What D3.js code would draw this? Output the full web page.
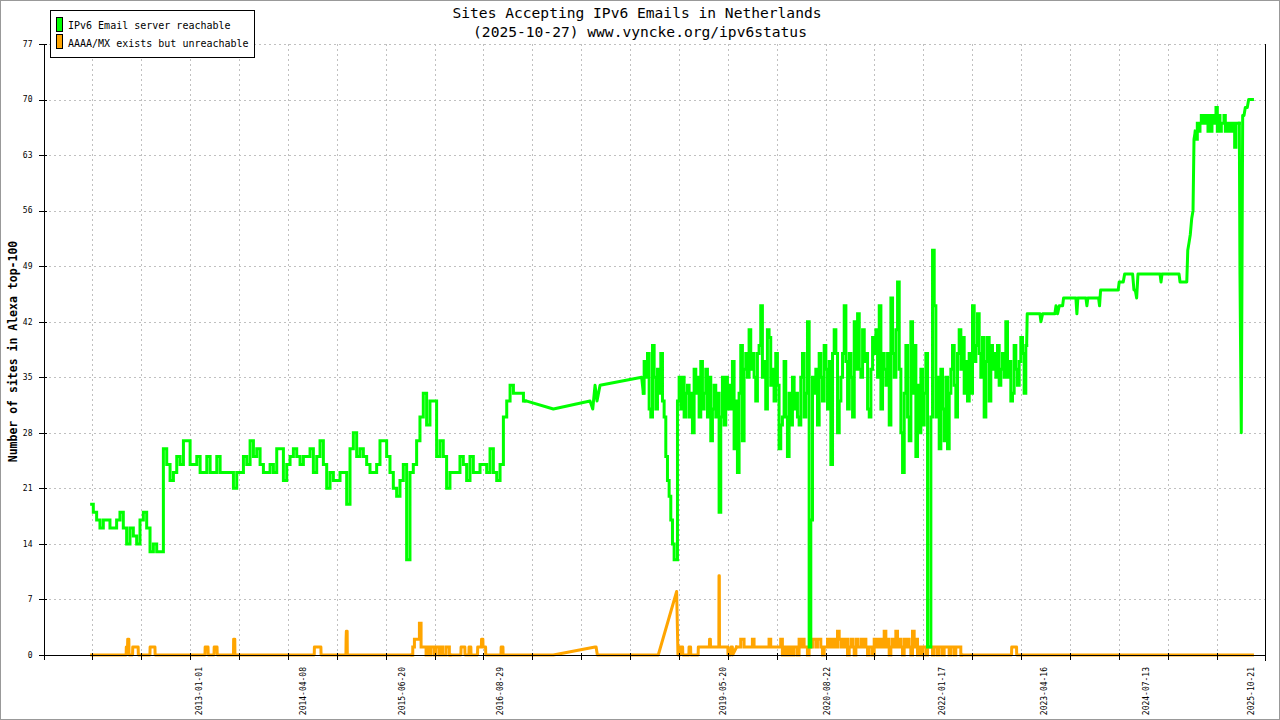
<!DOCTYPE html>
<html><head><meta charset="utf-8">
<script src="https://cdn.jsdelivr.net/npm/d3@7"></script>
<style>body{margin:0;background:#fff;overflow:hidden}text{font-family:"DejaVu Sans Mono",monospace;fill:#000}</style>
</head><body><svg id="c" width="1280" height="720"></svg>
<script>
// ---------- text ----------
const chartTitle = ["Sites Accepting IPv6 Emails in Netherlands", "(2025-10-27) www.vyncke.org/ipv6status"];
const yAxisTitle = "Number of sites in Alexa top-100";
const seriesNames = ["IPv6 Email server reachable", "AAAA/MX exists but unreachable"];
const seriesColors = ["#00ff00", "#ffa500"];
const yTickValues = [0, 7, 14, 21, 28, 35, 42, 49, 56, 63, 70, 77];
const xLabelDates = ["2013-01-01","2014-04-08","2015-06-20","2016-08-29","2019-05-20","2020-08-22","2022-01-17","2023-04-16","2024-07-13","2025-10-21"];
const xAxisYears = [2011.1035, 2025.979];   // axis extent in decimal years
const xTickIntervals = 25;

// ---------- green: "IPv6 Email server reachable" (decimal year, value) ----------
const greenRun1Span = [2011.690, 2016.965];
const greenRun1 = [19,18,17,16,17,17,16,16,17,18,16,14,16,15,14,17,18,16,13,14,13,13,26,24,22,23,25,24,27,27,
24,24,25,23,23,25,23,23,25,23,23,23,23,21,23,23,25,24,27,25,26,24,23,23,24,23,26,26,22,24,
25,26,25,24,25,25,26,23,25,27,24,21,23,22,22,23,23,19,26,28,25,26,25,24,23,23,24,27,27,25,
23,21,20,22,24,12,23,24,27,30,33,29,32,32,25,27,25,
21,23,23,23,25,24,22,25,23,23,24,24,23,26,23,22,24,30,32,34,33,33,33,32];
const greenPoints2 = [[2016.986,32],[2017.309,31],[2017.756,32],[2017.789,31],[2017.817,34],[2017.841,32],[2017.878,34],[2018.385,35]];
const greenRun3Span = [2018.405, 2023.072];
const greenRun3 = [33,37,35,38,31,30,39,35,31,36,33,38,32,30,25,22,20,17,14,12,12,
32,35,31,35,30,33,34,30,33,28,36,33,35,30,37,31,33,36,30,35,27,31,34,30,33,18,30,35,29,35,31,34,31,37,26,32,23,33,39,27,36,38,35,41,36,38,35,32,38,39,44,35,37,31,41,40,34,36,32,38,34,26,29,30,37,30,25,33,29,35,31,33,30,
29,35,38,30,33,42,1,17,35,33,36,29,38,35,32,39,36,31,37,24,38,41,38,28,32,35,38,44,37,31,38,35,30,42,36,43,36,35,41,37,38,31,30,36,40,38,41,35,44,31,38,36,34,38,29,45,38,35,41,47,36,28,23,33,39,30,27,42,33,39,25,34,28,36,29,33,38,1,1,30,51,44,30,35,26,36,31,27,35,26,33,36,39,34,30,38,41,36,40,33,37,32,38,33,44,37,39,43,38,35,40,30,37,40,32,39,36,38,35,39,34,36,38,35,42,35,37,32,33,39,36,34,37,40,38,33,39];
const greenPoints4 = [[2023.079,43],[2023.234,43],[2023.246,42],[2023.267,43],[2023.416,43],[2023.429,44],[2023.449,43],[2023.469,44],[2023.510,44],[2023.522,45],[2023.672,45],[2023.684,43],[2023.696,45],[2023.794,45],[2023.806,44],[2023.818,45],[2023.948,45],[2023.960,44],[2023.973,46],[2024.187,46],[2024.199,47],[2024.248,47],[2024.265,48],[2024.362,48],[2024.378,46],[2024.394,46],[2024.411,45],[2024.427,48],[2024.695,48],[2024.707,47],[2024.719,48],[2024.926,48],[2024.938,47],[2025.020,47],[2025.032,51],[2025.048,52],[2025.063,53],[2025.080,55],[2025.096,56],[2025.108,65]];
const greenRun5Span = [2025.124, 2025.660];
const greenRun5 = [66,65,67,66,67,68,67,68,67,68,66,68,66,67,68,67,69,66,68,66,67,67,68,66,67,66,67,66,67,67,64,67,67,67];
const greenPoints6 = [[2025.668,48],[2025.684,28],[2025.701,68],[2025.717,68],[2025.733,69],[2025.757,69],[2025.774,70],[2025.820,70]];

// ---------- orange: "AAAA/MX exists but unreachable" ----------
const orangePoints1 = [[2011.690,0],[2012.110,0],[2012.112,1],[2012.127,1],[2012.129,2],[2012.143,2],[2012.145,0],[2012.188,0],[2012.190,1],[2012.256,1],[2012.258,0],[2012.399,0],[2012.401,1],[2012.460,1],[2012.462,0],[2013.068,0],[2013.070,1],[2013.105,1],[2013.107,0],[2013.178,0],[2013.180,1],[2013.215,1],[2013.217,0],[2013.415,0],[2013.417,2],[2013.431,2],[2013.433,0],[2014.399,0],[2014.401,1],[2014.480,1],[2014.482,0],[2014.785,0],[2014.787,2],[2014.790,3],[2014.800,3],[2014.802,0]];
const orangeRun2Span = [2015.589, 2016.055];
const orangeRun2 = [0,1,2,2,2,4,1,1,1,0,1,0,1,1,0,1,1,0,1,0,0,1,1,0];
const orangePoints3 = [[2016.185,0],[2016.187,1],[2016.233,1],[2016.235,0],[2016.282,0],[2016.284,1],[2016.306,1],[2016.308,0],[2016.387,0],[2016.389,1],[2016.434,1],[2016.436,2],[2016.452,2],[2016.454,1],[2016.485,1],[2016.487,0],[2016.672,0],[2016.674,1],[2016.696,1],[2016.698,0],[2017.309,0],[2017.817,1],[2017.830,1],[2017.845,0],[2018.587,0],[2018.811,8],[2018.827,0],[2018.851,0],[2018.853,1],[2018.884,1],[2018.886,0],[2018.960,0],[2018.962,1],[2018.981,1],[2018.983,0],[2019.073,0],[2019.075,1],[2019.210,1],[2019.212,2],[2019.222,2],[2019.224,1],[2019.325,1],[2019.327,10],[2019.331,10],[2019.333,1],[2019.435,1],[2019.437,0],[2019.471,0],[2019.473,1],[2019.490,1],[2019.492,0]];
const orangeRun4Span = [2019.541, 2022.280];
const orangeRun4 = [1,1,1,2,2,1,1,1,1,1,2,1,1,1,1,1,1,1,1,1,2,1,1,1,1,1,1,2,0,1,0,1,0,1,0,1,1,0,2,1,
2,1,1,0,1,1,2,2,1,2,2,1,0,1,1,2,1,2,1,2,1,3,2,1,2,1,2,0,1,2,1,0,2,1,1,2,1,2,1,0,
1,1,0,2,1,2,1,2,1,3,1,2,0,1,2,1,3,1,2,1,0,2,1,2,1,0,3,1,2,0,1,0,1,1,0,1,1,1,0,1,
1,0,1,1,0,1,1,1,0,1,1,0,1,1,1,0];
const orangePoints5 = [[2022.290,0],[2022.888,0],[2022.890,1],[2022.949,1],[2022.951,0],[2025.820,0]];

// ---------- helpers ----------
function yearToDate(y){const yr=Math.floor(y);const s=Date.UTC(yr,0,1),e=Date.UTC(yr+1,0,1);return new Date(s+(y-yr)*(e-s));}
function runToPoints(span, vals){const n=vals.length-1;return vals.map((v,i)=>[span[0]+i*(span[1]-span[0])/n, v]);}
// pieces: dense daily runs are drawn as steps, sparse points as straight segments
function buildPieces(list){
  const ps = list.map(p => ({step: p.length === 2, pts: p.length === 2 ? runToPoints(p[0], p[1]) : p[0]}));
  return ps.map((p, i) => {
    if (p.step) return p;
    const pts = p.pts.slice();
    if (i > 0) pts.unshift(ps[i-1].pts[ps[i-1].pts.length-1]);
    if (i < ps.length-1) pts.push(ps[i+1].pts[0]);
    return {step:false, pts};
  });
}
const greenPieces = buildPieces([[greenRun1Span,greenRun1],[greenPoints2],[greenRun3Span,greenRun3],[greenPoints4],[greenRun5Span,greenRun5],[greenPoints6]]);
const orangePieces = buildPieces([[orangePoints1],[orangeRun2Span,orangeRun2],[orangePoints3],[orangeRun4Span,orangeRun4],[orangePoints5]]);

// ---------- layout ----------
const L = 43.5, R = 1265.5, T = 44, B = 655;
const svg = d3.select("#c");
const x = d3.scaleUtc().domain(xAxisYears.map(yearToDate)).range([L, R]);
const y = d3.scaleLinear().domain([0, 77]).range([B, T]);
const xTicks = d3.range(xTickIntervals + 1).map(i => x.invert(L + i * (R - L) / xTickIntervals));
const parse = d3.utcParse("%Y-%m-%d");

svg.append("rect").attr("x",0.5).attr("y",0.5).attr("width",1279).attr("height",719).attr("fill","#fff").attr("stroke","#999");

// grid
const grid = svg.append("g").attr("stroke","#c0c0c0").attr("stroke-dasharray","2,3").attr("shape-rendering","crispEdges");
yTickValues.filter(v => v > 0).forEach(v => grid.append("line").attr("x1",L).attr("x2",R).attr("y1",Math.round(y(v))+0.5).attr("y2",Math.round(y(v))+0.5));
xTicks.slice(1, -1).forEach(t => grid.append("line").attr("x1",Math.round(x(t))+0.5).attr("x2",Math.round(x(t))+0.5).attr("y1",T).attr("y2",B));

// series
const lineLin = d3.line().x(d => x(yearToDate(d[0]))).y(d => y(d[1]));
const lineStep = d3.line().curve(d3.curveStep).x(d => x(yearToDate(d[0]))).y(d => y(d[1]));
function drawSeries(pieces, color){
  const g = svg.append("g").attr("fill","none").attr("stroke",color).attr("stroke-width",3);
  pieces.forEach(p => g.append("path").attr("d", (p.step ? lineStep : lineLin)(p.pts))
    .attr("stroke-linejoin", p.step ? "miter" : "round").attr("stroke-linecap","square"));
}
drawSeries(orangePieces, seriesColors[1]);
drawSeries(greenPieces, seriesColors[0]);

// axes
const ax = svg.append("g").attr("stroke","#000").attr("shape-rendering","crispEdges");
ax.append("line").attr("x1",L+0.5).attr("x2",L+0.5).attr("y1",T).attr("y2",B+0.5);
ax.append("line").attr("x1",R-0.5).attr("x2",R-0.5).attr("y1",T).attr("y2",B+5.5);
ax.append("line").attr("x1",L).attr("x2",R).attr("y1",B+0.5).attr("y2",B+0.5);
yTickValues.forEach(v => ax.append("line").attr("x1",L-5).attr("x2",L+3).attr("y1",Math.round(y(v))+0.5).attr("y2",Math.round(y(v))+0.5));
xTicks.slice(0, -1).forEach(t => ax.append("line").attr("x1",Math.round(x(t))+0.5).attr("x2",Math.round(x(t))+0.5).attr("y1",B-2).attr("y2",B+5));

svg.append("g").selectAll("text").data(yTickValues).join("text")
  .attr("x", L-11).attr("y", d => y(d)).attr("dy","0.35em").attr("text-anchor","end")
  .attr("font-size","8px").text(d => d);

svg.append("g").selectAll("text").data(xLabelDates).join("text")
  .attr("transform", d => `translate(${x(parse(d))},${B+12}) rotate(-90)`)
  .attr("dy","0.35em").attr("text-anchor","end").attr("font-size","8px").text(d => d);

svg.append("text").attr("transform",`translate(13,${(T+B)/2+2}) rotate(-90)`).attr("text-anchor","middle")
  .attr("dy","0.35em").attr("font-size","11.5px").attr("font-weight","bold").text(yAxisTitle);

// title
svg.append("text").attr("x",637).attr("y",18).attr("text-anchor","middle").attr("font-size","14.6px").text(chartTitle[0]);
svg.append("text").attr("x",640).attr("y",37).attr("text-anchor","middle").attr("font-size","14.6px").text(chartTitle[1]);

// legend
const lg = svg.append("g");
lg.append("rect").attr("x",50.5).attr("y",10.5).attr("width",204).attr("height",47).attr("fill","#fff").attr("stroke","#000").attr("shape-rendering","crispEdges");
seriesNames.forEach((n, i) => {
  lg.append("rect").attr("x",56.5).attr("y",17.5 + i*17).attr("width",6).attr("height",14).attr("fill",seriesColors[i]).attr("stroke","#000").attr("shape-rendering","crispEdges");
  lg.append("text").attr("x",68).attr("y",25.5 + i*17.5).attr("dy","0.35em").attr("font-size","10px").text(n);
});
</script>
</body></html>
